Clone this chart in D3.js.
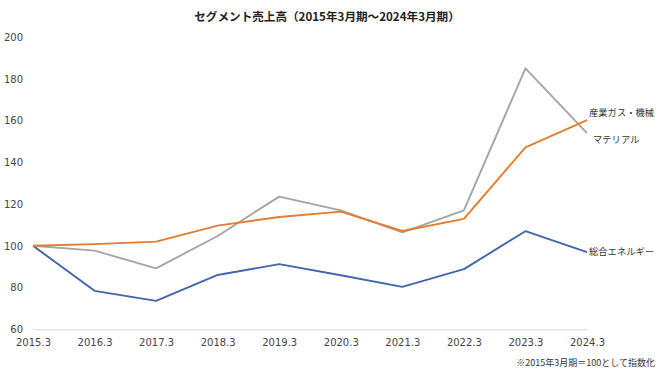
<!DOCTYPE html>
<html><head><meta charset="utf-8">
<script src="https://cdn.jsdelivr.net/npm/d3@7"></script>
<style>body{margin:0;background:#fff}svg{display:block}</style>
</head><body>
<svg id="c" width="660" height="371"></svg>
<script>
const categories = ["2015.3","2016.3","2017.3","2018.3","2019.3","2020.3","2021.3","2022.3","2023.3","2024.3"];
const gasMachinery = [100, 100.8, 102.0, 109.7, 113.8, 116.4, 107.1, 112.9, 147.2, 160.3];
const materials = [100, 97.7, 89.2, 104.7, 123.6, 117.0, 106.4, 117.0, 185.1, 154.0];
const energy = [100, 78.4, 73.6, 86.0, 91.2, 85.9, 80.3, 88.8, 107.0, 97.0];
const yTicks = [60, 80, 100, 120, 140, 160, 180, 200];
const seriesNames = ["産業ガス・機械", "マテリアル", "総合エネルギー"];
const title = "セグメント売上高（2015年3月期～2024年3月期）";
const note = "※2015年3月期＝100として指数化";

const svg = d3.select("#c");
const font = "'DejaVu Sans','Noto Sans CJK JP',sans-serif";
const x = d3.scalePoint().domain(categories).range([33, 587]);
const y = d3.scaleLinear().domain([60, 200]).range([329.2, 37.3]);

svg.append("text").attr("x", 327).attr("y", 21).attr("text-anchor", "middle")
  .attr("font-family", "'Noto Sans CJK JP',sans-serif").attr("font-weight", "bold")
  .attr("font-size", 11.6).attr("fill", "#222").text(title);

// y axis labels
const ya = svg.append("g").attr("transform", "translate(23,0)")
  .call(d3.axisLeft(y).tickValues(yTicks).tickSize(0).tickPadding(0));
ya.select(".domain").remove();
ya.selectAll("text").attr("font-family", font).attr("font-size", 10).attr("fill", "#444");

// x axis
const xa = svg.append("g").attr("transform", `translate(0,${y(60)})`)
  .call(d3.axisBottom(x).tickSize(0).tickPadding(10));
xa.select(".domain").attr("stroke", "#d9d9d9").attr("stroke-width", 1)
  .attr("d", `M${x(categories[0])},0.5H${x(categories[categories.length-1])}`);
xa.selectAll("text").attr("font-family", font).attr("font-size", 10).attr("fill", "#444");

const line = d3.line().x((d, i) => x(categories[i])).y(d => y(d));
const series = [
  {name: seriesNames[2], vals: energy, color: "#4166AA"},
  {name: seriesNames[1], vals: materials, color: "#A5A5A5"},
  {name: seriesNames[0], vals: gasMachinery, color: "#E57C30"}
];
series.forEach(s => {
  svg.append("path").attr("d", line(s.vals)).attr("fill", "none")
    .attr("stroke", s.color).attr("stroke-width", 1.9).attr("stroke-linejoin", "round");
});

const lab = (t, xx, yy) => svg.append("text").attr("x", xx).attr("y", yy)
  .attr("font-family", "'Noto Sans CJK JP',sans-serif").attr("font-size", 9.3)
  .attr("fill", "#333").attr("dominant-baseline", "central").text(t);
const last = categories.length - 1;
lab(seriesNames[0], x(categories[last]) + 2, y(gasMachinery[last]) - 8.5);
lab(seriesNames[1], x(categories[last]) + 6, y(materials[last]) + 6);
lab(seriesNames[2], x(categories[last]) + 2, y(energy[last]) - 1);

svg.append("text").attr("x", 655).attr("y", 366).attr("text-anchor", "end")
  .attr("font-family", "'Noto Sans CJK JP',sans-serif").attr("font-size", 9)
  .attr("fill", "#333").text(note);
</script>
</body></html>
